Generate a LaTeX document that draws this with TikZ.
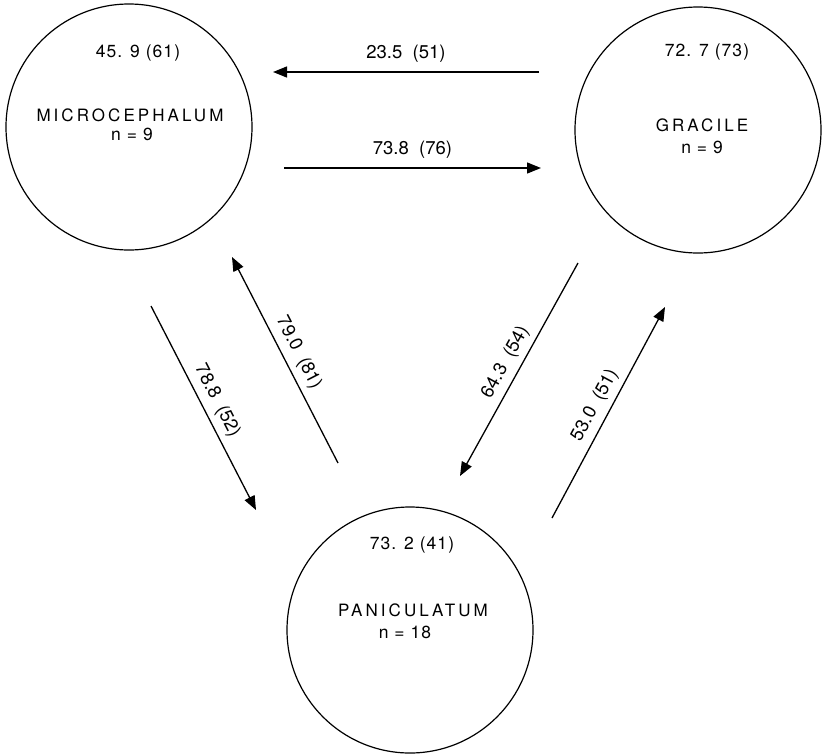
\documentclass[tikz,border=0pt]{standalone}
\usepackage{fontspec}
\setmainfont{TeX Gyre Heros}
\newfontfamily\widefont[LetterSpace=18]{TeX Gyre Heros}
\newfontfamily\numfont[LetterSpace=6]{TeX Gyre Heros}
\usetikzlibrary{arrows.meta}
\begin{document}
\begin{tikzpicture}[x=1pt,y=-1pt,
  taxon/.style={circle, draw, line width=1.2pt, minimum size=246pt, inner sep=0pt},
  txt/.style={inner sep=0pt, font=\numfont\fontsize{17.5}{20}\selectfont},
  taxname/.style={inner sep=0pt, font=\widefont\fontsize{17}{20}\selectfont},
  lbl/.style={inner sep=0pt, font=\fontsize{18.5}{20}\selectfont},
  flow/.style={line width=1.3pt, -{Triangle[length=14pt,width=11pt]}},
]
\useasboundingbox (0,0) rectangle (822,753);
% circles
\node[taxon] (mic) at (129,127) {};
\node[taxon] (gra) at (698,130) {};
\node[taxon] (pan) at (410,630) {};
% circle texts
\node[txt]     (micv) at (138,53) {45. 9 (61)};
\node[taxname] (micn) at (130,115) {MICROCEPHALUM};
\node[txt]     (mics) at (132,134) {n = 9};
\node[txt]     (grav) at (707,52) {72. 7 (73)};
\node[taxname] (gran) at (702,125) {GRACILE};
\node[txt]     (gras) at (702,147) {n = 9};
\node[txt]     (panv) at (412,545) {73. 2 (41)};
\node[taxname] (pann) at (413,610) {PANICULATUM};
\node[txt]     (pans) at (405,632) {n = 18};
% arrow end points
\coordinate (gm1) at (539,72);  \coordinate (gm2) at (273,72);
\coordinate (mg1) at (284,168); \coordinate (mg2) at (541,168);
\coordinate (mp1) at (151,306); \coordinate (mp2) at (256,510);
\coordinate (pm1) at (338,463); \coordinate (pm2) at (232,257);
\coordinate (gp1) at (578,263); \coordinate (gp2) at (460,476);
\coordinate (pg1) at (552,518); \coordinate (pg2) at (665,307);
% arrows
\draw[flow] (gm1) -- node[lbl, above=9pt] {23.5\ \ (51)} (gm2);
\draw[flow] (mg1) -- node[lbl, above=9pt] {73.8\ \ (76)} (mg2);
\draw[flow] (mp1) -- node[lbl, sloped, above=6pt] {78.8\ \ (52)} (mp2);
\draw[flow] (pm1) -- node[lbl, sloped, above=6pt] {79.0\ \ (81)} (pm2);
\draw[flow] (gp1) -- node[lbl, sloped, above=6pt] {64.3\ \ (54)} (gp2);
\draw[flow] (pg1) -- node[lbl, sloped, above=6pt] {53.0\ \ (51)} (pg2);
\end{tikzpicture}
\end{document}
